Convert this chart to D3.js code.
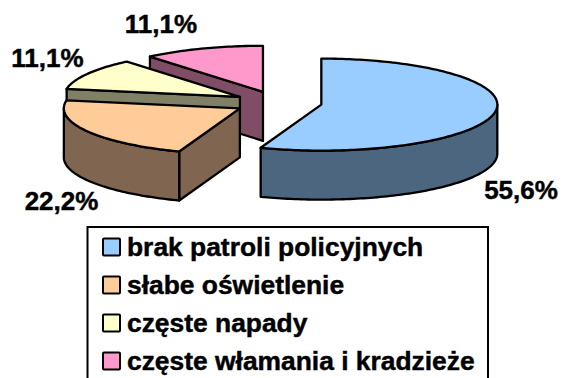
<html>
<head>
<meta charset="utf-8">
<script src="https://d3js.org/d3.v7.min.js"></script>
<style>
body{margin:0;background:#fff;}
svg{display:block;}
text{font-family:"Liberation Sans",Arial,sans-serif;font-weight:bold;fill:#000;stroke:#000;stroke-width:0.45px;}
</style>
</head>
<body>
<script>
var categories=["brak patroli policyjnych","słabe oświetlenie","częste napady","częste włamania i kradzieże"];
var values=[55.6,22.2,11.1,11.1];
var valueLabels=["55,6%","22,2%","11,1%","11,1%"];
var topColors=["#99ccff","#ffcc99","#ffffcc","#ff99cc"];
var sideColors=["#4d6680","#806650","#808066","#804d66"];

var w=562,h=378;
var cx=278,cy=102.6,depth=49,explode=44;

// unit circle -> squashed ellipse
var xScale=d3.scaleLinear().domain([-1,1]).range([-176,176]);
var yScale=d3.scaleLinear().domain([-1,1]).range([46,-46]);

var arcs=d3.pie().sort(null).value(function(d){return d;})(values);

var line=d3.line();

function rim(a,b){
	var n=Math.max(2,Math.ceil((b-a)/0.02));
	return d3.range(n+1).map(function(i){
		var t=a+(b-a)*i/n;
		return [xScale(Math.sin(t))-xScale(0),yScale(Math.cos(t))-yScale(0)];
	});
}

var svg=d3.select("body").append("svg").attr("width",w).attr("height",h);

// back to front: pink, yellow, orange, blue
var order=[3,2,1,0];
order.forEach(function(i){
	var a=arcs[i];
	var mid=(a.startAngle+a.endAngle)/2;
	var g=svg.append("g")
		.attr("transform","translate("+(cx+explode*Math.sin(mid))+","+(cy-explode*Math.cos(mid)*46/176)+")")
		.attr("stroke","#000").attr("stroke-width",2.3).attr("stroke-linejoin","round");

	// cut face at the start angle
	if(a.startAngle>0){
		var p=rim(a.startAngle,a.startAngle)[0];
		g.append("path").attr("fill",sideColors[i])
			.attr("d",line([[0,0],p,[p[0],p[1]+depth],[0,depth]])+"Z");
	}
	// outer wall, only the part that faces the viewer
	var a0=Math.max(a.startAngle,Math.PI/2),a1=Math.min(a.endAngle,Math.PI*1.5);
	if(a1>a0){
		var upper=rim(a0,a1);
		var lower=upper.map(function(p){return [p[0],p[1]+depth];}).reverse();
		g.append("path").attr("fill",sideColors[i]).attr("d",line(upper.concat(lower))+"Z");
	}
	// top
	g.append("path").attr("fill",topColors[i])
		.attr("d",line([[0,0]].concat(rim(a.startAngle,a.endAngle)))+"Z");
});

// data labels
var labelPos=[[521,199],[61.5,210],[47.5,67],[161,33]];
svg.selectAll(".val").data(valueLabels).enter().append("text")
	.attr("class","val").attr("text-anchor","middle").attr("font-size",26)
	.attr("x",function(d,i){return labelPos[i][0];})
	.attr("y",function(d,i){return labelPos[i][1];})
	.text(function(d){return d;});

// legend, cut off by the bottom of the picture
svg.append("rect").attr("x",87.5).attr("y",227).attr("width",400.5).attr("height",170)
	.attr("fill","#fff").attr("stroke","#000").attr("stroke-width",2);

var rowScale=d3.scalePoint().domain(categories).range([247,361]);
var rows=svg.selectAll(".row").data(categories).enter().append("g").attr("class","row")
	.attr("transform",function(d){return "translate(0,"+rowScale(d)+")";});
rows.append("rect").attr("x",103).attr("y",-8.5).attr("width",17).attr("height",17).attr("rx",1)
	.attr("fill",function(d,i){return topColors[i];}).attr("stroke","#000").attr("stroke-width",2);
rows.append("text").attr("x",127).attr("y",8.5).attr("font-size",26.4)
	.text(function(d){return d;});
</script>
</body>
</html>
